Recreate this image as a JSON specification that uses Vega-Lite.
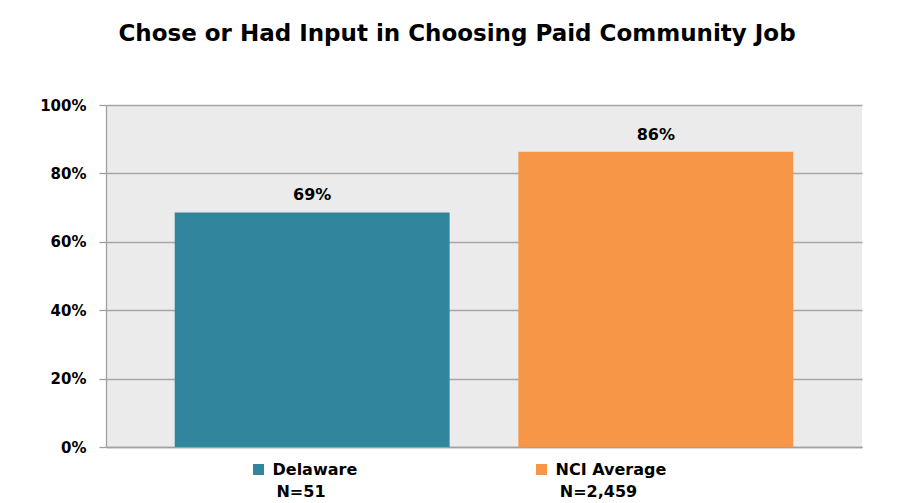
{
  "$schema": "https://vega.github.io/schema/vega-lite/v6.json",
  "width": 756,
  "height": 342,
  "autosize": {"type": "none"},
  "padding": {"left": 106, "top": 105, "right": 40, "bottom": 56},
  "background": "white",
  "title": {
    "text": "Chose or Had Input in Choosing Paid Community Job",
    "font": "DejaVu Sans",
    "fontWeight": "bold",
    "fontSize": 23,
    "color": "#000000",
    "anchor": "middle",
    "frame": "group",
    "dx": -27,
    "baseline": "alphabetic",
    "offset": 34
  },
  "data": {
    "values": [
      {"group": "Delaware", "value": 0.686, "n": "N=51"},
      {"group": "NCI Average", "value": 0.863, "n": "N=2,459"}
    ]
  },
  "layer": [
    {
      "layer": [
        {
          "mark": {"type": "bar"},
          "encoding": {
            "x": {
              "field": "group",
              "type": "nominal",
              "scale": {"paddingInner": 0.2, "paddingOuter": 0.2},
              "axis": {"title": null, "labels": false, "ticks": false, "domainColor": "#A0A0A0", "domainWidth": 1.3}
            },
            "y": {
              "field": "value",
              "type": "quantitative",
              "scale": {"domain": [0, 1]},
              "axis": {
                "title": null,
                "values": [0, 0.2, 0.4, 0.6, 0.8, 1],
                "format": ".0%",
                "labelFont": "DejaVu Sans",
                "labelFontWeight": "bold",
                "labelFontSize": 15,
                "labelColor": "#000000",
                "labelPadding": 13,
                "tickSize": 7,
                "tickColor": "#A0A0A0",
                "tickWidth": 1.3,
                "gridColor": "#A6A6A6",
                "gridWidth": 1.3,
                "domainColor": "#A0A0A0",
                "domainWidth": 1.3
              }
            },
            "color": {
              "field": "group",
              "type": "nominal",
              "scale": {"domain": ["Delaware", "NCI Average"], "range": ["#31859C", "#F79646"]},
              "legend": null
            }
          }
        },
        {
          "mark": {"type": "text", "dy": -12, "baseline": "alphabetic", "font": "DejaVu Sans", "fontWeight": "bold", "fontSize": 16, "color": "#000000"},
          "encoding": {
            "x": {"field": "group", "type": "nominal"},
            "y": {"field": "value", "type": "quantitative"},
            "text": {"field": "value", "type": "quantitative", "format": ".0%"}
          }
        }
      ]
    },
    {
      "layer": [
        {
          "mark": {"type": "point", "shape": "square", "filled": true, "size": 121, "opacity": 1, "yOffset": 22.5},
          "encoding": {
            "x": {"field": "group", "type": "nominal", "scale": {"type": "point", "padding": 0.8357, "align": 0.3224}, "axis": null},
            "y": {"datum": 0, "type": "quantitative"},
            "color": {"field": "group", "type": "nominal", "legend": null}
          }
        },
        {
          "mark": {"type": "text", "align": "left", "baseline": "middle", "dx": 14, "dy": 23, "font": "DejaVu Sans", "fontWeight": "bold", "fontSize": 16, "color": "#000000"},
          "encoding": {
            "x": {"field": "group", "type": "nominal"},
            "y": {"datum": 0, "type": "quantitative"},
            "text": {"field": "group", "type": "nominal"}
          }
        }
      ]
    },
    {
      "mark": {"type": "text", "align": "center", "baseline": "middle", "dy": 45, "font": "DejaVu Sans", "fontWeight": "bold", "fontSize": 16, "color": "#000000"},
      "encoding": {
        "x": {"field": "group", "type": "nominal", "scale": {"type": "point", "padding": 0.7706, "align": 0.4253}, "axis": null},
        "y": {"datum": 0, "type": "quantitative"},
        "text": {"field": "n", "type": "nominal"}
      }
    }
  ],
  "resolve": {"scale": {"x": "independent"}},
  "config": {
    "view": {"fill": "#EBEBEB", "stroke": null}
  }
}
